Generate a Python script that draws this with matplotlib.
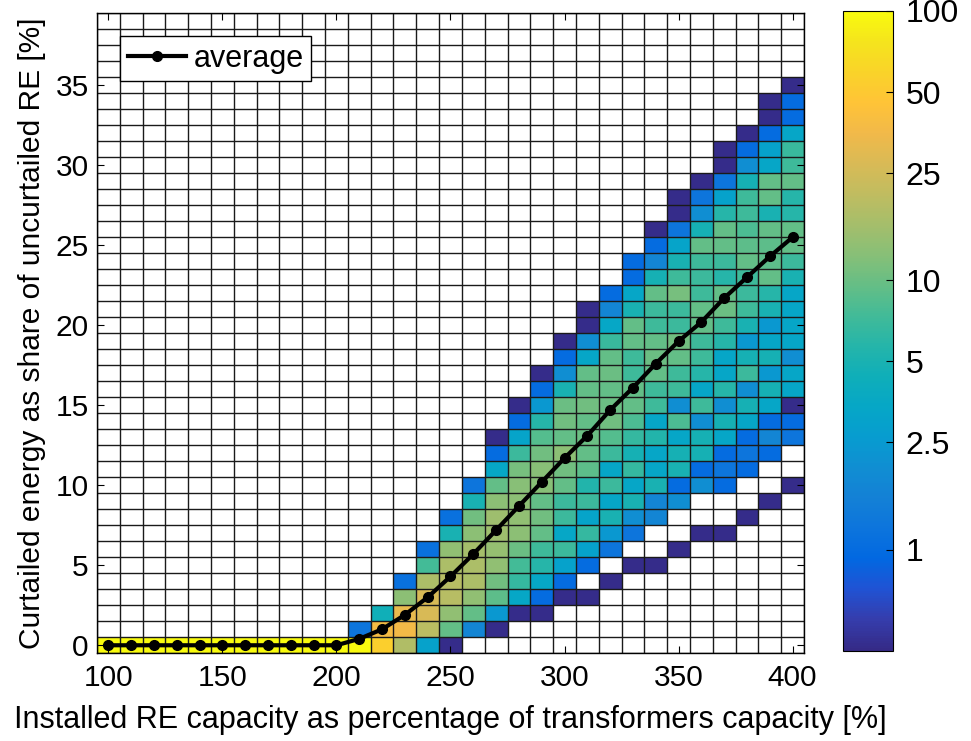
import numpy as np
import matplotlib
matplotlib.use('Agg')
import matplotlib.pyplot as plt
from matplotlib.colors import LinearSegmentedColormap, LogNorm

plt.rcParams['font.family'] = ['Liberation Sans', 'DejaVu Sans']

# installed RE capacity [% of transformer capacity], one column per value
capacity = list(range(100, 401, 10))

# share of cases [%] per 1%-bin of curtailed energy, starting at bin 0
share_100_200 = [100]          # same for every column 100 ... 200
share_210 = [97, 1.2]
share_220 = [55, 38, 4.5]
share_230 = [18, 36, 32, 13, 1.1]
share_240 = [3.0, 20, 27, 27, 17, 7.5, 1.1]
share_250 = [0.43, 9.5, 13.5, 19, 19, 17, 13.5, 5, 1.1]
share_260 = [0, 1.7, 9.5, 13.5, 17, 17, 16, 13, 10.5, 5, 1.2]
share_270 = [0, 0.43, 2.4, 9, 10.5, 13.5, 14, 15, 15, 13, 9.5, 3.4, 1.0, 0.43]
share_280 = [0, 0, 0.43, 3.4, 6.5, 7.5, 10, 13, 13.5, 13, 12.5, 11, 7, 3.2, 1.0, 0.43]
share_290 = [0, 0, 0.43, 1.0, 3.4, 5.8, 7.2, 9.5, 10.5, 9.5, 12.5, 12.5, 10.5, 8.5, 5.8,
             2.4, 1.0, 0.43]
share_300 = [0, 0, 0, 0.43, 1.0, 3.0, 7, 3.4, 7, 7, 9.5, 10.5, 13, 9.5, 10.5, 10, 5, 2.0,
             1.0, 0.43]
share_310 = [0, 0, 0, 0.43, 0, 1.0, 3.0, 6.5, 3.2, 7, 5.5, 9, 9.5, 10, 9.5, 10.5, 9.5, 9.5,
             3.3, 2.0, 0.43, 0.43]
share_320 = [0, 0, 0, 0, 0.43, 0, 1.2, 2.4, 5, 3.3, 7, 3.3, 7, 8.5, 10.5, 10, 9.5, 10, 9.5,
             6.8, 3.4, 1.7, 1.0]
share_330 = [0, 0, 0, 0, 0, 0.43, 0, 1.2, 2.0, 5, 3.3, 6.5, 4.8, 6.5, 8, 9.5, 9.5, 7.2, 7.2,
             9.5, 9.5, 5, 3.3, 1.0, 1.0]
share_340 = [0, 0, 0, 0, 0, 0.43, 0, 0, 1.7, 1.7, 5, 3.3, 3.3, 5.5, 3.3, 7.2, 7.2, 9.5, 10,
             9.5, 7.2, 7, 9.5, 4.8, 1.7, 1.0, 0.43]
share_350 = [0, 0, 0, 0, 0, 0, 0.43, 0, 0, 2.0, 1.0, 5, 4.8, 3.3, 8, 2.0, 7.2, 7.2, 9.5,
             10.5, 7, 7, 11, 7.2, 5, 3.2, 1.2, 0.43, 0.43]
share_360 = [0, 0, 0, 0, 0, 0, 0, 0.43, 0, 0, 2.0, 1.0, 4.8, 4.8, 2.0, 7.2, 3.3, 5.8, 7.2,
             7.2, 9.5, 9.5, 7.2, 7, 7.2, 9.5, 4.8, 2.0, 1.2, 0.43]
share_370 = [0, 0, 0, 0, 0, 0, 0, 0.43, 0, 0, 1.0, 1.2, 1.0, 3.3, 4.8, 2.0, 5.8, 3.3, 3.3,
             5.8, 7.2, 10, 9.5, 5.8, 7, 9.5, 9.5, 5.8, 3.0, 1.2, 0.43, 0.43]
share_380 = [0, 0, 0, 0, 0, 0, 0, 0, 0.43, 0, 0, 1.0, 1.2, 1.0, 3.3, 4.8, 2.0, 7, 4.8, 2.4,
             5, 7.2, 7, 7.2, 9.5, 9, 8, 7.2, 7.2, 4.8, 2.0, 1.0, 0.43]
share_390 = [0, 0, 0, 0, 0, 0, 0, 0, 0, 0.43, 0, 0, 1.0, 1.7, 1.0, 3.3, 4.8, 2.4, 4.8, 3.3,
             2.4, 5, 5.8, 9.5, 9, 9, 9.5, 5, 9.5, 9.5, 3.3, 3.0, 1.0, 0.43, 0.43]
share_400 = [0, 0, 0, 0, 0, 0, 0, 0, 0, 0, 0.43, 0, 0, 1.2, 1.0, 0.43, 3.3, 3.3, 2.0, 3.3,
             3.3, 3.3, 3.3, 5, 7, 9.5, 9.5, 5.8, 5.8, 9.5, 7.2, 6.8, 3.3, 1.0, 1.0, 0.43]

# average curtailed energy [%]
average = [0, 0, 0, 0, 0, 0, 0, 0, 0, 0, 0, 0.4, 1.0, 1.9, 3.0, 4.3, 5.7, 7.2, 8.7, 10.2,
           11.7, 13.1, 14.7, 16.1, 17.6, 19.0, 20.2, 21.7, 23.0, 24.3, 25.5]

cbar_ticks = [1, 2.5, 5, 10, 25, 50, 100]
cbar_labels = ['1', '2.5', '5', '10', '25', '50', '100']

# MATLAB parula (every third entry of the 64-colour map)
parula = LinearSegmentedColormap.from_list('parula', [
    (0.2081, 0.1663, 0.5292), (0.2081, 0.2386, 0.6771), (0.1253, 0.3242, 0.8303),
    (0.0060, 0.4086, 0.8828), (0.0498, 0.4586, 0.8641), (0.0779, 0.5040, 0.8384),
    (0.0641, 0.5570, 0.8240), (0.0265, 0.6137, 0.8135), (0.0228, 0.6535, 0.7768),
    (0.0590, 0.6838, 0.7254), (0.1453, 0.7098, 0.6646), (0.2586, 0.7317, 0.5954),
    (0.3953, 0.7459, 0.5244), (0.5300, 0.7491, 0.4661), (0.6473, 0.7456, 0.4188),
    (0.7525, 0.7384, 0.3768), (0.8507, 0.7299, 0.3360), (0.9450, 0.7261, 0.2886),
    (0.9990, 0.7653, 0.2164), (0.9789, 0.8271, 0.1633), (0.9588, 0.8949, 0.1132),
    (0.9763, 0.9831, 0.0538)], N=256)

columns = [share_100_200] * 11 + [share_210, share_220, share_230, share_240, share_250,
                                  share_260, share_270, share_280, share_290, share_300,
                                  share_310, share_320, share_330, share_340, share_350,
                                  share_360, share_370, share_380, share_390, share_400]
n_rows = 40
grid = np.zeros((n_rows, len(capacity)))
for k, col in enumerate(columns):
    grid[:len(col), k] = col
grid = np.ma.masked_where(grid <= 0, grid)

x_edges = np.arange(capacity[0] - 5, capacity[-1] + 6, 10)
y_edges = np.arange(-0.5, n_rows, 1)

fig = plt.figure(figsize=(9.71, 7.41), dpi=100)
ax = fig.add_axes([0.0999, 0.1184, 0.7281, 0.8637])
mesh = ax.pcolormesh(x_edges, y_edges, grid, cmap=parula, norm=LogNorm(vmin=0.42, vmax=100),
                     zorder=1)
for xe in x_edges:
    ax.axvline(xe, color='#1a1a1a', lw=1.0, zorder=2)
for ye in y_edges:
    ax.axhline(ye, color='#1a1a1a', lw=1.0, zorder=2)

ax.plot(capacity, average, color='black', lw=3, marker='o', ms=7, zorder=3,
        label='average')

ax.set_xlim(95, 405)
ax.set_ylim(-0.5, 39.5)
ax.set_xticks(range(100, 401, 50))
ax.set_yticks(range(0, 36, 5))
ax.tick_params(direction='in', labelsize=21.5, top=True, right=True, length=5)
ax.tick_params(axis='x', pad=8)
ax.tick_params(axis='y', pad=6)
ax.set_xlabel('Installed RE capacity as percentage of transformers capacity [%]', fontsize=22,
              labelpad=9)
ax.set_ylabel('Curtailed energy as share of uncurtailed RE [%]', fontsize=21.5, labelpad=7)
for s in ax.spines.values():
    s.set_linewidth(1.0)
    s.set_zorder(4)

leg = ax.legend(loc='upper left', fontsize=22, frameon=True, fancybox=False,
                borderaxespad=0.75, handlelength=1.9, handletextpad=0.25, borderpad=0.25,
                framealpha=1)
leg.get_frame().set_edgecolor('black')
leg.get_frame().set_linewidth(1.0)
leg.set_zorder(5)

cax = fig.add_axes([0.868, 0.1215, 0.0515, 0.8637])
cb = fig.colorbar(mesh, cax=cax)
cb.set_ticks(cbar_ticks)
cb.set_ticklabels(cbar_labels)
cb.ax.minorticks_off()
cb.ax.tick_params(direction='in', labelsize=23, length=5, pad=9)
cb.outline.set_linewidth(0.8)

fig.savefig('out.png', dpi=100)
